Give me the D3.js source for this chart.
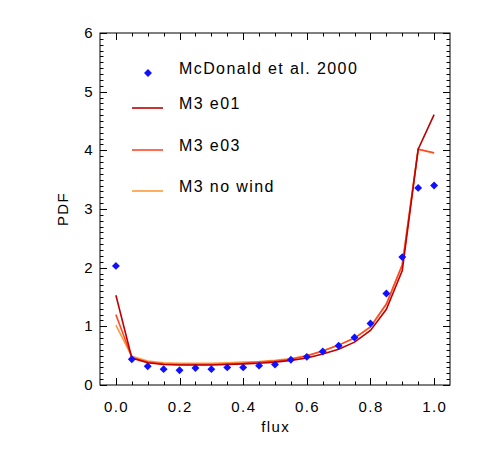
<!DOCTYPE html>
<html>
<head>
<meta charset="utf-8">
<script src="https://cdn.jsdelivr.net/npm/d3@7"></script>
<style>
  body { margin: 0; background: #fff; }
  svg { display: block; font-family: "Liberation Sans", Arial, sans-serif; }
  text { letter-spacing: 1.4px; }
</style>
</head>
<body>
<svg id="chart" width="480" height="450"></svg>
<script>
const flux = [0, 0.05, 0.1, 0.15, 0.2, 0.25, 0.3, 0.35, 0.4, 0.45, 0.5, 0.55, 0.6, 0.65, 0.7, 0.75, 0.8, 0.85, 0.9, 0.95, 1.0];
const mcdonald = [2.03, 0.44, 0.32, 0.27, 0.25, 0.29, 0.27, 0.30, 0.30, 0.33, 0.35, 0.43, 0.48, 0.57, 0.67, 0.81, 1.05, 1.56, 2.18, 3.36, 3.40];
const m3e01 = [1.53, 0.46, 0.38, 0.35, 0.34, 0.34, 0.34, 0.35, 0.36, 0.37, 0.39, 0.42, 0.46, 0.53, 0.61, 0.73, 0.93, 1.29, 1.95, 4.02, 4.61];
const m3e03 = [1.20, 0.47, 0.39, 0.36, 0.35, 0.35, 0.35, 0.36, 0.37, 0.39, 0.41, 0.44, 0.50, 0.58, 0.68, 0.80, 0.99, 1.38, 2.05, 4.02, 3.96];
const m3nowind = [1.02, 0.49, 0.41, 0.38, 0.37, 0.37, 0.37, 0.38, 0.39, 0.40, 0.42, 0.45, 0.50, 0.58, 0.68, 0.80, 0.99, 1.38, 2.05, 4.02, 3.95];
const seriesNames = ["M3 e01", "M3 e03", "M3 no wind"];
const seriesColors = ["#c00000", "#ff4a2a", "#ff9a3a"];
const xTicks = [0, 0.2, 0.4, 0.6, 0.8, 1.0];
const yTicks = [0, 1, 2, 3, 4, 5, 6];

const svg = d3.select("#chart");
const L = 100, R = 450, T = 33, B = 385;
const x = d3.scaleLinear().domain([-0.05, 1.05]).range([L, R]);
const y = d3.scaleLinear().domain([0, 6]).range([B, T]);

// frame
svg.append("rect").attr("x", L).attr("y", T).attr("width", R - L).attr("height", B - T)
  .attr("fill", "none").attr("stroke", "#000").attr("stroke-width", 1);

const tickG = svg.append("g").attr("stroke", "#000").attr("stroke-width", 1);
// x ticks (major 0.2, minor 0.05) bottom & top
d3.range(0, 21).map(i => i * 0.05).forEach((v, i) => {
  const len = (i % 4 === 0) ? 7 : 3.5;
  const px = Math.round(x(v)) + 0.5;
  tickG.append("line").attr("x1", px).attr("x2", px).attr("y1", B).attr("y2", B - len);
  tickG.append("line").attr("x1", px).attr("x2", px).attr("y1", T).attr("y2", T + len);
});
// y ticks (major 1, minor 0.1) left & right
d3.range(0, 61).map(i => i / 10).forEach((v, i) => {
  const len = (i % 10 === 0) ? 7 : 3.5;
  const py = Math.round(y(v)) + 0.5;
  tickG.append("line").attr("x1", L).attr("x2", L + len).attr("y1", py).attr("y2", py);
  tickG.append("line").attr("x1", R).attr("x2", R - len).attr("y1", py).attr("y2", py);
});

// tick labels
svg.append("g").selectAll("text").data(xTicks).join("text")
  .attr("x", d => x(d) + 0.7).attr("y", 412).attr("text-anchor", "middle")
  .attr("font-size", 15).text(d => d3.format(".1f")(d));
svg.append("g").selectAll("text").data(yTicks).join("text")
  .attr("x", 94).attr("y", d => y(d) + 5).attr("text-anchor", "end")
  .attr("font-size", 15).text(d => d);

// axis titles
svg.append("text").attr("x", (L + R) / 2 + 0.7).attr("y", 432).attr("text-anchor", "middle")
  .attr("font-size", 15).text("flux");
svg.append("text").attr("transform", `translate(68,${(T + B) / 2}) rotate(-90)`)
  .attr("text-anchor", "middle").attr("font-size", 15).text("PDF");

// lines
const lineGen = d3.line().x((d, i) => x(flux[i])).y(d => y(d));
[m3nowind, m3e03, m3e01].forEach((s, k) => {
  const idx = 2 - k;
  svg.append("path").datum(s).attr("d", lineGen).attr("fill", "none")
    .attr("stroke", seriesColors[idx]).attr("stroke-width", 1.6);
});

// diamonds
const diamond = d3.symbol().type(d3.symbolDiamond2).size(40);
svg.append("g").selectAll("path").data(mcdonald).join("path")
  .attr("transform", (d, i) => `translate(${x(flux[i])},${y(d)})`)
  .attr("d", diamond).attr("fill", "#1010ff");

// legend
svg.append("path").attr("transform", "translate(148,73)").attr("d", diamond).attr("fill", "#1010ff");
svg.append("text").attr("x", 179).attr("y", 74).attr("font-size", 16).text("McDonald et al. 2000");
const legY = [108, 150, 191];
seriesNames.forEach((n, i) => {
  svg.append("line").attr("x1", 132).attr("x2", 163).attr("y1", legY[i]).attr("y2", legY[i])
    .attr("stroke", seriesColors[i]).attr("stroke-width", 1.6);
  svg.append("text").attr("x", 179).attr("y", legY[i] + 1).attr("font-size", 16).text(n);
});
</script>
</body>
</html>
